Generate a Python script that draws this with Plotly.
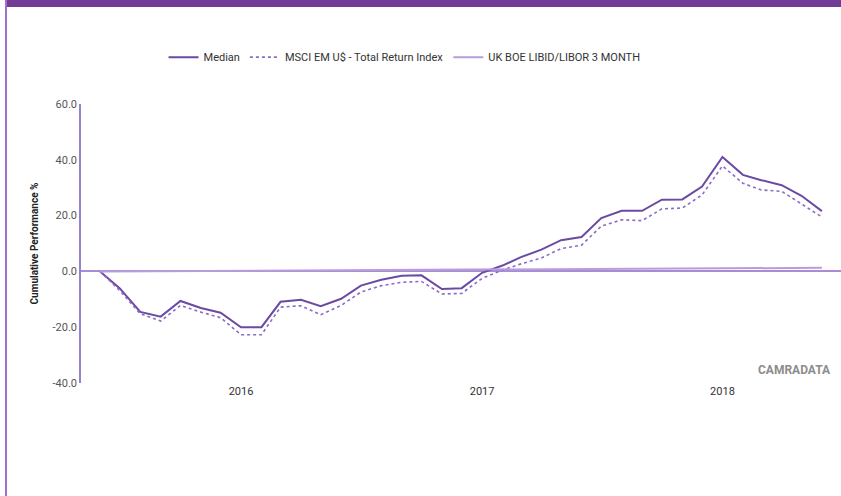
import plotly.graph_objects as go
import pandas as pd

dates = pd.date_range("2015-06-01", "2018-06-01", freq="MS")

median = [0.0, -6.1, -14.5, -16.2, -10.6, -13.1, -14.8, -20.0, -20.0, -10.9,
          -10.2, -12.5, -9.8, -5.1, -3.0, -1.6, -1.4, -6.3, -6.0, -0.5,
          2.1, 5.1, 7.8, 11.2, 12.3, 19.1, 21.7, 21.7, 25.7, 25.8,
          30.4, 41.0, 34.6, 32.7, 30.9, 27.1, 21.6]

msci = [0.0, -6.9, -15.2, -17.8, -12.2, -14.6, -16.6, -22.7, -22.7, -12.8,
        -12.3, -15.5, -12.2, -7.4, -5.1, -3.9, -3.6, -8.1, -7.9, -2.5,
        0.5, 2.7, 4.8, 8.2, 9.4, 16.2, 18.5, 18.2, 22.4, 22.7,
        27.4, 37.8, 31.6, 29.2, 28.7, 24.3, 19.5]

libor = [0.0, 0.04, 0.08, 0.12, 0.16, 0.2, 0.24, 0.28, 0.32, 0.36,
         0.4, 0.43, 0.46, 0.49, 0.52, 0.55, 0.58, 0.61, 0.64, 0.67,
         0.7, 0.73, 0.76, 0.79, 0.82, 0.85, 0.88, 0.91, 0.94, 0.97,
         1.0, 1.04, 1.08, 1.13, 1.18, 1.23, 1.28]

year_ticks = ["2016-01-01", "2017-01-01", "2018-01-01"]
year_labels = ["2016", "2017", "2018"]
y_ticks = [-40, -20, 0, 20, 40, 60]
y_labels = ["-40.0", "-20.0", "0.0", "20.0", "40.0", "60.0"]

FONT = "Roboto, sans-serif"

fig = go.Figure()
fig.add_trace(go.Scatter(x=dates, y=median, name="Median", mode="lines",
                         line=dict(color="#6b4aa3", width=2)))
fig.add_trace(go.Scatter(x=dates, y=msci, name="MSCI EM U$ - Total Return Index", mode="lines",
                         line=dict(color="#8b6cc4", width=1.6, dash="dot")))
fig.add_trace(go.Scatter(x=dates, y=libor, name="UK BOE LIBID/LIBOR 3 MONTH", mode="lines",
                         line=dict(color="#b79ddb", width=2)))

fig.update_layout(
    width=841, height=496,
    margin=dict(l=81, r=0, t=104, b=113),
    paper_bgcolor="white", plot_bgcolor="white",
    font=dict(family=FONT, size=11, color="#444"),
    showlegend=True,
    legend=dict(orientation="h", x=0.4257, xanchor="center", y=1.168, yanchor="middle",
                font=dict(size=11, color="#333"), itemwidth=30, bgcolor="rgba(0,0,0,0)"),
    xaxis=dict(range=["2015-05-03", "2018-06-30"], tickvals=year_ticks, ticktext=year_labels,
               showgrid=False, zeroline=False, showline=False, ticks="",
               tickfont=dict(size=11, color="#333")),
    yaxis=dict(range=[-40, 60], tickvals=y_ticks, ticktext=y_labels,
               showgrid=False, zeroline=True, zerolinecolor="#a98bd6", zerolinewidth=1.5,
               showline=True, linecolor="#9b7fd0", linewidth=1.5, ticks="",
               tickfont=dict(size=11, color="#555"),
               title=dict(text="<b>Cumulative Performance %</b>", font=dict(size=10, color="#222"),
                          standoff=12)),
    shapes=[
        dict(type="rect", xref="paper", yref="paper", x0=-0.0987, x1=1.0, y0=1.3477, y1=1.4,
             fillcolor="#723b96", line=dict(width=0), layer="above"),
        dict(type="line", xref="paper", yref="paper", x0=-0.0987, x1=-0.0987, y0=-0.41, y1=1.38,
             line=dict(color="#9c6fd0", width=2)),
    ],
    annotations=[
        dict(text="<b>CAMRADATA</b>", xref="paper", yref="paper", x=0.9895, y=0.047,
             xanchor="right", yanchor="middle", showarrow=False,
             font=dict(size=12, color="#8c8c8c", family="Roboto, sans-serif")),
    ],
)

fig.write_html("out.html", config={"displayModeBar": False},
               post_script="document.body.style.margin='0';document.body.style.overflow='hidden';")
